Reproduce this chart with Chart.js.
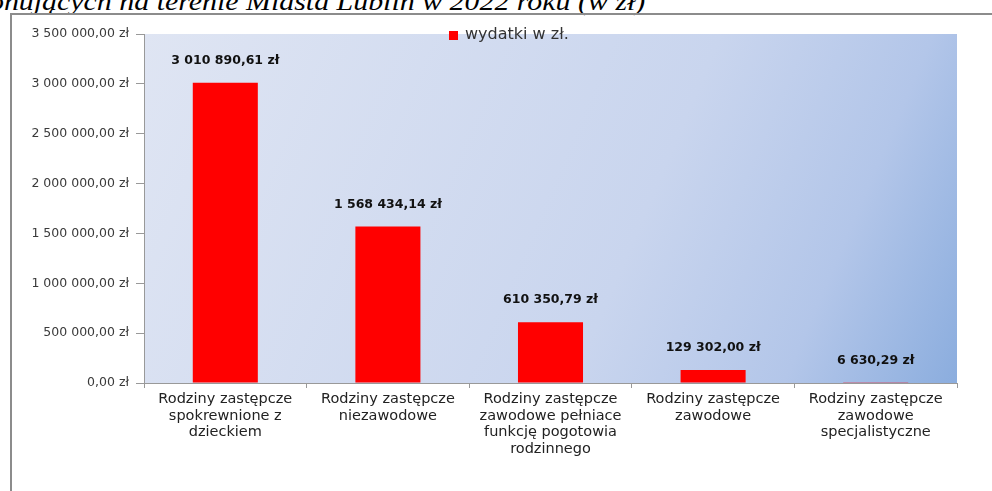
<!DOCTYPE html>
<html>
<head>
<meta charset="utf-8">
<script src="https://cdn.jsdelivr.net/npm/chart.js@4/dist/chart.umd.min.js"></script>
<style>
  html, body { margin: 0; padding: 0; background: #fff; }
  #wrap { position: relative; width: 992px; height: 491px; overflow: hidden; }
  #title {
    position: absolute; right: 347px; top: -13px; white-space: nowrap;
    font-family: "Liberation Serif", serif; font-style: italic; font-size: 26px; color: #000;
    transform: scaleX(1.15); transform-origin: right top;
  }
  #frame {
    position: absolute; left: 10px; top: 13px; width: 990px; height: 500px;
    border-left: 2px solid #8c8c8c; border-top: 2px solid #8c8c8c; box-sizing: border-box;
  }
  canvas { position: absolute; left: 0; top: 0; }
</style>
</head>
<body>
<div id="wrap">
  <div id="title">Wydatki na rodziny zastępcze funkcjonujących na terenie Miasta Lublin w 2022 roku (w zł)</div>
  <div id="frame"></div>
  <canvas id="chart" width="992" height="491"></canvas>
</div>
<script>
const categories = [
  ['Rodziny zastępcze', 'spokrewnione z', 'dzieckiem'],
  ['Rodziny zastępcze', 'niezawodowe'],
  ['Rodziny zastępcze', 'zawodowe pełniace', 'funkcję pogotowia', 'rodzinnego'],
  ['Rodziny zastępcze', 'zawodowe'],
  ['Rodziny zastępcze', 'zawodowe', 'specjalistyczne']
];
const wydatki = [3010890.61, 1568434.14, 610350.79, 129302.00, 6630.29];
const seriesLabel = 'wydatki w zł.';

function zl(v) {
  const parts = v.toFixed(2).split('.');
  const whole = parts[0].replace(/\B(?=(\d{3})+(?!\d))/g, ' ');
  return whole + ',' + parts[1] + ' zł';
}

const FONT = '"DejaVu Sans", "Liberation Sans", sans-serif';

const plotBg = {
  id: 'plotBg',
  beforeDraw(chart) {
    const { ctx, chartArea: a } = chart;
    const g = ctx.createLinearGradient(a.left, a.top, a.right, a.bottom);
    g.addColorStop(0, '#dfe5f3');
    g.addColorStop(0.6, '#c9d5ee');
    g.addColorStop(0.82, '#b3c6e9');
    g.addColorStop(1, '#8badde');
    ctx.save();
    ctx.fillStyle = g;
    ctx.fillRect(a.left, a.top, a.right - a.left, a.bottom - a.top);
    ctx.restore();
  }
};

const valueLabels = {
  id: 'valueLabels',
  afterDatasetsDraw(chart) {
    const { ctx } = chart;
    const meta = chart.getDatasetMeta(0);
    ctx.save();
    ctx.font = 'bold 12.5px ' + FONT;
    ctx.fillStyle = '#111';
    ctx.textAlign = 'center';
    ctx.textBaseline = 'middle';
    meta.data.forEach((bar, i) => {
      ctx.fillText(zl(wydatki[i]), bar.x, bar.y - 22);
    });
    ctx.restore();
  }
};

const legendBox = {
  id: 'legendBox',
  afterDraw(chart) {
    const { ctx } = chart;
    ctx.save();
    ctx.fillStyle = '#ff0000';
    ctx.fillRect(449, 31, 9, 9);
    ctx.font = '16px ' + FONT;
    ctx.fillStyle = '#333';
    ctx.textBaseline = 'middle';
    ctx.fillText(seriesLabel, 465, 35);
    ctx.restore();
  }
};

new Chart(document.getElementById('chart'), {
  type: 'bar',
  data: {
    labels: categories,
    datasets: [{
      label: seriesLabel,
      data: wydatki,
      backgroundColor: '#ff0000',
      borderWidth: 0,
      categoryPercentage: 1,
      barPercentage: 0.4
    }]
  },
  options: {
    responsive: false,
    animation: false,
    layout: { padding: { left: 10, right: 35, top: 34, bottom: 0 } },
    plugins: {
      legend: { display: false },
      tooltip: { enabled: false }
    },
    scales: {
      x: {
        afterFit(s) { s.height = 108; },
        border: { color: '#999', width: 1 },
        grid: { offset: true, drawOnChartArea: false, color: '#999', tickLength: 5 },
        ticks: {
          color: '#222',
          font: { family: FONT, size: 14.5, lineHeight: 1.14 },
          padding: 3,
          maxRotation: 0,
          autoSkip: false
        }
      },
      y: {
        min: 0,
        max: 3500000,
        afterFit(s) { s.width = 134; },
        border: { color: '#999', width: 1 },
        grid: { drawOnChartArea: false, color: '#999', tickLength: 8 },
        ticks: {
          stepSize: 500000,
          color: '#3a3a3a',
          font: { family: FONT, size: 12.5 },
          padding: 7,
          callback: v => zl(v)
        }
      }
    }
  },
  plugins: [plotBg, valueLabels, legendBox]
});
</script>
</body>
</html>
